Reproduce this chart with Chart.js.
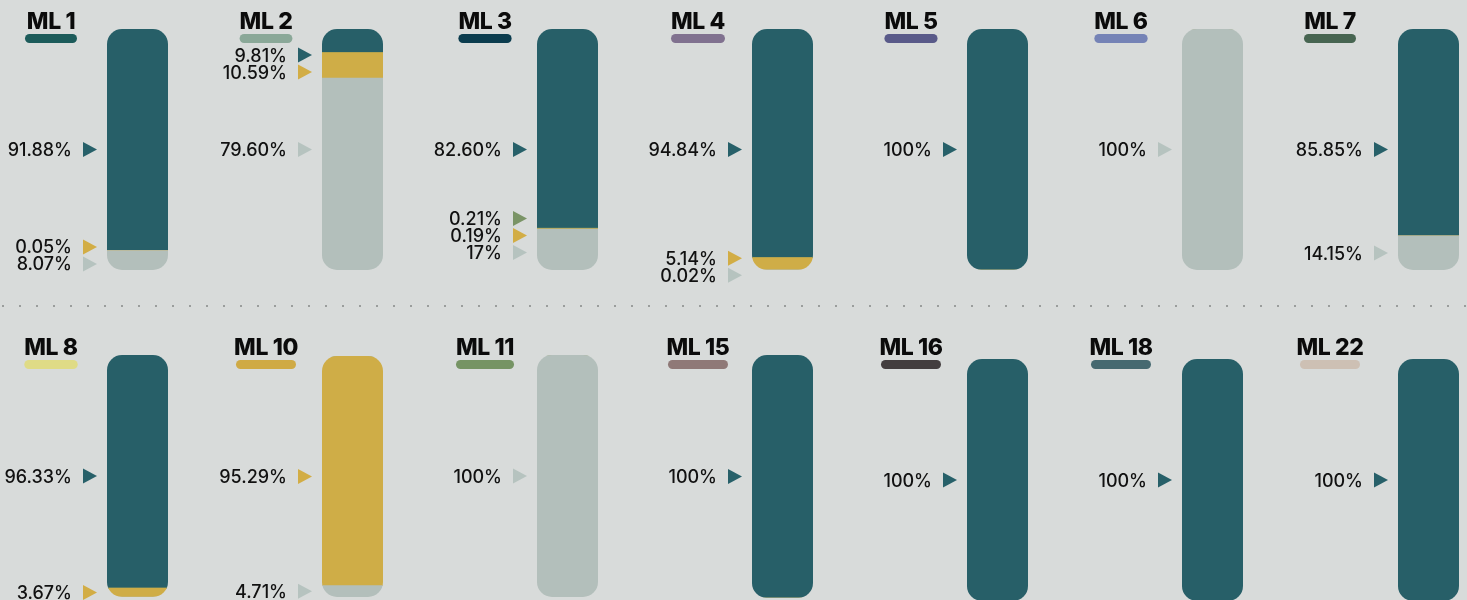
<!DOCTYPE html>
<html>
<head>
<meta charset="utf-8">
<script src="https://cdn.jsdelivr.net/npm/chart.js@4.4.1/dist/chart.umd.min.js"></script>
<style>
  html, body { margin: 0; padding: 0; background: #d8dbda; }
  #board { position: relative; width: 1467px; height: 600px; overflow: hidden; background: #d8dbda; }
  #board canvas { position: absolute; }
  .dots {
    position: absolute; left: 0; top: 304px; width: 1467px; height: 3px;
    background-image: linear-gradient(90deg, #9a9d9c 2px, transparent 2px);
    background-size: 17px 2px; background-repeat: repeat-x; background-position: 2px 1px;
  }
</style>
</head>
<body>
<div id="board"><div class="dots"></div></div>
<script>
// ---------------- data (percent shares, stacked bottom -> top)
var lineNames = ["ML 1", "ML 2", "ML 3", "ML 4", "ML 5", "ML 6", "ML 7",
                 "ML 8", "ML 10", "ML 11", "ML 15", "ML 16", "ML 18", "ML 22"];
var grayShare   = [8.07, 79.60, 17, 0.02, 0, 100, 14.15, 0, 4.71, 100, 0, 0, 0, 0];
var yellowShare = [0.05, 10.59, 0.19, 5.14, 0, 0, 0, 3.67, 95.29, 0, 0, 0, 0, 0];
var greenShare  = [0, 0, 0.21, 0, 0, 0, 0, 0, 0, 0, 0, 0, 0, 0];
var tealShare   = [91.88, 9.81, 82.60, 94.84, 100, 0, 85.85, 96.33, 0, 0, 100, 100, 100, 100];

// ---------------- styles
var pillColors = ["#1c5b5a", "#8aa898", "#0b3c4e", "#80718f", "#595a89", "#7583b6", "#476551",
                  "#dfdb86", "#cfaa45", "#769464", "#8f7977", "#433e3f", "#466970", "#cdc0b4"];
var seriesStyle = [
  { name: "gray",   data: grayShare,   color: "#b3bfbb", mark: "#b6c3bf" },
  { name: "yellow", data: yellowShare, color: "#cfad47", mark: "#d2ad45" },
  { name: "green",  data: greenShare,  color: "#7a9466", mark: "#7a9466" },
  { name: "teal",   data: tealShare,   color: "#275f68", mark: "#276069" }
];

// ---------------- layout (pixels)
var barLeft = [107, 322, 537, 752, 967, 1182, 1398];
var titleX  = [51, 266, 485, 698, 911, 1121, 1330];
var rowTop  = [0, 326];
var barTopInPanel = [29, 29, 29, 29, 29, 29, 29, 29, 30, 29, 29, 33, 33, 33];
var barHeight = [241, 241, 241, 241, 241, 241, 241, 242, 241, 242, 243, 242, 242, 242];
var barW = 61, panelLeftPad = 110, panelH = 290;

function fmt(v) {
  return Number.isInteger(v) ? v + "%" : v.toFixed(2) + "%";
}

var clipBar = {
  id: "clipBar",
  beforeDatasetsDraw: function(chart) {
    var ctx = chart.ctx, y = chart.scales.y;
    var el = chart.getDatasetMeta(0).data[0];
    var top = y.getPixelForValue(100), bottom = y.getPixelForValue(0);
    ctx.save();
    ctx.beginPath();
    ctx.roundRect(el.x - el.width / 2, top, el.width, bottom - top, 15);
    ctx.clip();
  },
  afterDatasetsDraw: function(chart) {
    chart.ctx.restore();
  }
};

var panelText = {
  id: "panelText",
  afterDraw: function(chart, args, opts) {
    var ctx = chart.ctx, y = chart.scales.y;
    var area = chart.chartArea;

    // title + pill
    ctx.save();
    ctx.font = "800 23px Inter";
    ctx.letterSpacing = "-0.4px";
    ctx.fillStyle = "#0b0b0b";
    ctx.textAlign = "center";
    ctx.textBaseline = "alphabetic";
    ctx.fillText(opts.title, opts.titleCx, 29);
    var tw = ctx.measureText(opts.title).width;
    var pw = Math.max(52, Math.min(60, tw));
    ctx.fillStyle = opts.pill;
    ctx.beginPath();
    ctx.roundRect(opts.titleCx - pw / 2, 34, pw, 9, 4.5);
    ctx.fill();
    ctx.restore();

    // segment labels
    var segs = [];
    chart.data.datasets.forEach(function(ds, i) {
      var v = ds.data[0];
      if (!v) return;
      var el = chart.getDatasetMeta(i).data[0];
      segs.push({ v: v, y: (el.y + el.base) / 2, mark: ds.mark });
    });
    var big = segs.reduce(function(a, b) { return b.v > a.v ? b : a; });
    big.pos = (y.getPixelForValue(0) + y.getPixelForValue(100)) / 2;
    var rest = segs.filter(function(s) { return s !== big; }).sort(function(a, b) { return a.y - b.y; });
    var gap = 17, minY = area.top + 26;
    var groups = rest.map(function(s) { return [s]; });
    function place(g) {
      var c = g.reduce(function(t, s) { return t + s.y; }, 0) / g.length;
      g.forEach(function(s, k) { s.pos = c + (k - (g.length - 1) / 2) * gap; });
      if (g[0].pos < minY) {
        var d = minY - g[0].pos;
        g.forEach(function(s) { s.pos += d; });
      }
    }
    groups.forEach(place);
    var moved = true;
    while (moved) {
      moved = false;
      for (var i = 0; i < groups.length - 1; i++) {
        var a = groups[i], b = groups[i + 1];
        if (b[0].pos - a[a.length - 1].pos < gap) {
          groups.splice(i, 2, a.concat(b));
          place(groups[i]);
          moved = true;
          break;
        }
      }
    }

    var left = area.left;
    ctx.save();
    ctx.font = "500 18px Inter";
    ctx.letterSpacing = "0px";
    ctx.textAlign = "right";
    ctx.textBaseline = "alphabetic";
    segs.forEach(function(s) {
      ctx.fillStyle = s.mark;
      ctx.beginPath();
      ctx.moveTo(left - 24, s.pos - 7.5);
      ctx.lineTo(left - 10, s.pos);
      ctx.lineTo(left - 24, s.pos + 7.5);
      ctx.closePath();
      ctx.fill();
      ctx.fillStyle = "#111111";
      ctx.fillText(fmt(s.v), left - 35, s.pos + 6.6);
    });
    ctx.restore();
  }
};

var board = document.getElementById("board");

lineNames.forEach(function(name, i) {
  var col = i % 7, row = Math.floor(i / 7);
  var cv = document.createElement("canvas");
  var w = panelLeftPad + barW + 6;
  cv.width = w;
  cv.height = panelH;
  cv.style.left = (barLeft[col] - panelLeftPad) + "px";
  cv.style.top = rowTop[row] + "px";
  cv.style.width = w + "px";
  cv.style.height = panelH + "px";
  board.appendChild(cv);

  new Chart(cv, {
    type: "bar",
    data: {
      labels: [name],
      datasets: seriesStyle.map(function(s) {
        return {
          label: s.name,
          data: [s.data[i]],
          mark: s.mark,
          backgroundColor: s.color,
          borderWidth: 0,
          barPercentage: 1,
          categoryPercentage: 1
        };
      })
    },
    options: {
      responsive: false,
      animation: false,
      events: [],
      layout: {
        padding: {
          left: panelLeftPad, right: 6,
          top: barTopInPanel[i],
          bottom: panelH - barTopInPanel[i] - barHeight[i]
        }
      },
      scales: {
        x: { stacked: true, display: false },
        y: { stacked: true, display: false, min: 0, max: 100 }
      },
      plugins: {
        legend: { display: false },
        tooltip: { enabled: false },
        panelText: {
          title: name,
          pill: pillColors[i],
          titleCx: titleX[col] - barLeft[col] + panelLeftPad
        }
      }
    },
    plugins: [clipBar, panelText]
  });
});
</script>
</body>
</html>
